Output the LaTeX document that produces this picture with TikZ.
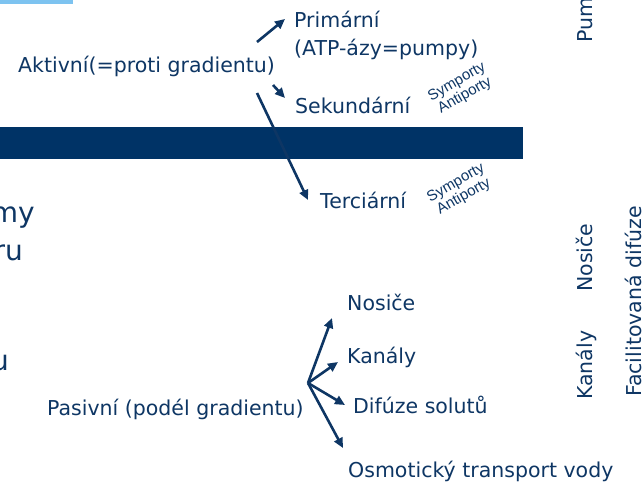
\documentclass[tikz,border=0pt]{standalone}
\usepackage{fontspec}
\setmainfont{DejaVu Sans}
\newfontfamily\arialfont{Liberation Sans}
\usetikzlibrary{arrows.meta}
\definecolor{navy}{RGB}{14,54,100}
\definecolor{barblue}{RGB}{0,51,102}
\definecolor{skyblue}{RGB}{125,195,240}

\begin{document}
\begin{tikzpicture}[x=1pt,y=-1pt,
    lbl/.style={text=navy,font=\fontsize{20.5}{28}\selectfont,inner sep=0pt,anchor=base west},
    big/.style={text=navy,font=\fontsize{28}{30}\selectfont,inner sep=0pt,anchor=base east},
    vert/.style={lbl,rotate=90},
    porty/.style={text=navy,font=\arialfont\fontsize{15}{16}\selectfont,inner sep=0pt,align=center,rotate=30},
    arr/.style={draw=navy,line width=2.6pt,-{Triangle[length=10pt,width=9pt]}}]
    \useasboundingbox (0,0) rectangle (642,483);
    \clip (0,0) rectangle (642,483);
    \fill[skyblue] (0,0) rectangle (73,4);
    \fill[barblue] (0,127) rectangle (523,159);

    % aktivni transport
    \node[lbl] (akt) at (18,72) {Aktivní(=proti gradientu)};
    \node[lbl,align=left] (prim) at (294,55) {Primární\\(ATP-ázy=pumpy)};
    \node[lbl] (sek) at (295,113) {Sekundární};
    \node[lbl] (ter) at (320,208) {Terciární};
    \node[porty] (por1) at (461,89) {Symporty\\Antiporty};
    \node[porty] (por2) at (460,190) {Symporty\\Antiporty};
    \coordinate (a1) at (257,42);
    \coordinate (a2) at (273,85);
    \coordinate (a3) at (257,93);
    \draw[arr] (a1) -- ([shift={(-9,-36)}]prim.base west);
    \draw[arr] (a2) -- ([shift={(-10,-15)}]sek.base west);
    \draw[arr] (a3) -- ([shift={(-12,-8)}]ter.base west);

    % pasivni transport
    \node[lbl] (pas) at (47,415) {Pasivní (podél gradientu)};
    \node[lbl] (nos) at (347,310) {Nosiče};
    \node[lbl] (kan) at (347,363) {Kanály};
    \node[lbl] (dif) at (353,413) {Difúze solutů};
    \node[lbl] (osm) at (348,477) {Osmotický transport vody};
    \coordinate (fan) at (308,383);
    \draw[arr] (fan) -- ([shift={(-15,8)}]nos.base west);
    \draw[arr] (fan) -- ([shift={(-9,-1)}]kan.base west);
    \draw[arr] (fan) -- ([shift={(-8,-8)}]dif.base west);
    \draw[arr] (fan) -- ([shift={(-5,-29)}]osm.base west);

    % okraje
    \node[big] (my) at (35,222) {my};
    \node[big] (ru) at (23,260) {ru};
    \node[big] (u) at (9,370) {u};
    \node[vert] (pum) at (592,43) {Pum};
    \node[vert] (vnos) at (592,292) {Nosiče};
    \node[vert] (vkan) at (592,400) {Kanály};
    \node[vert] (fac) at (641,397) {Facilitovaná difúze};
\end{tikzpicture}
\end{document}
